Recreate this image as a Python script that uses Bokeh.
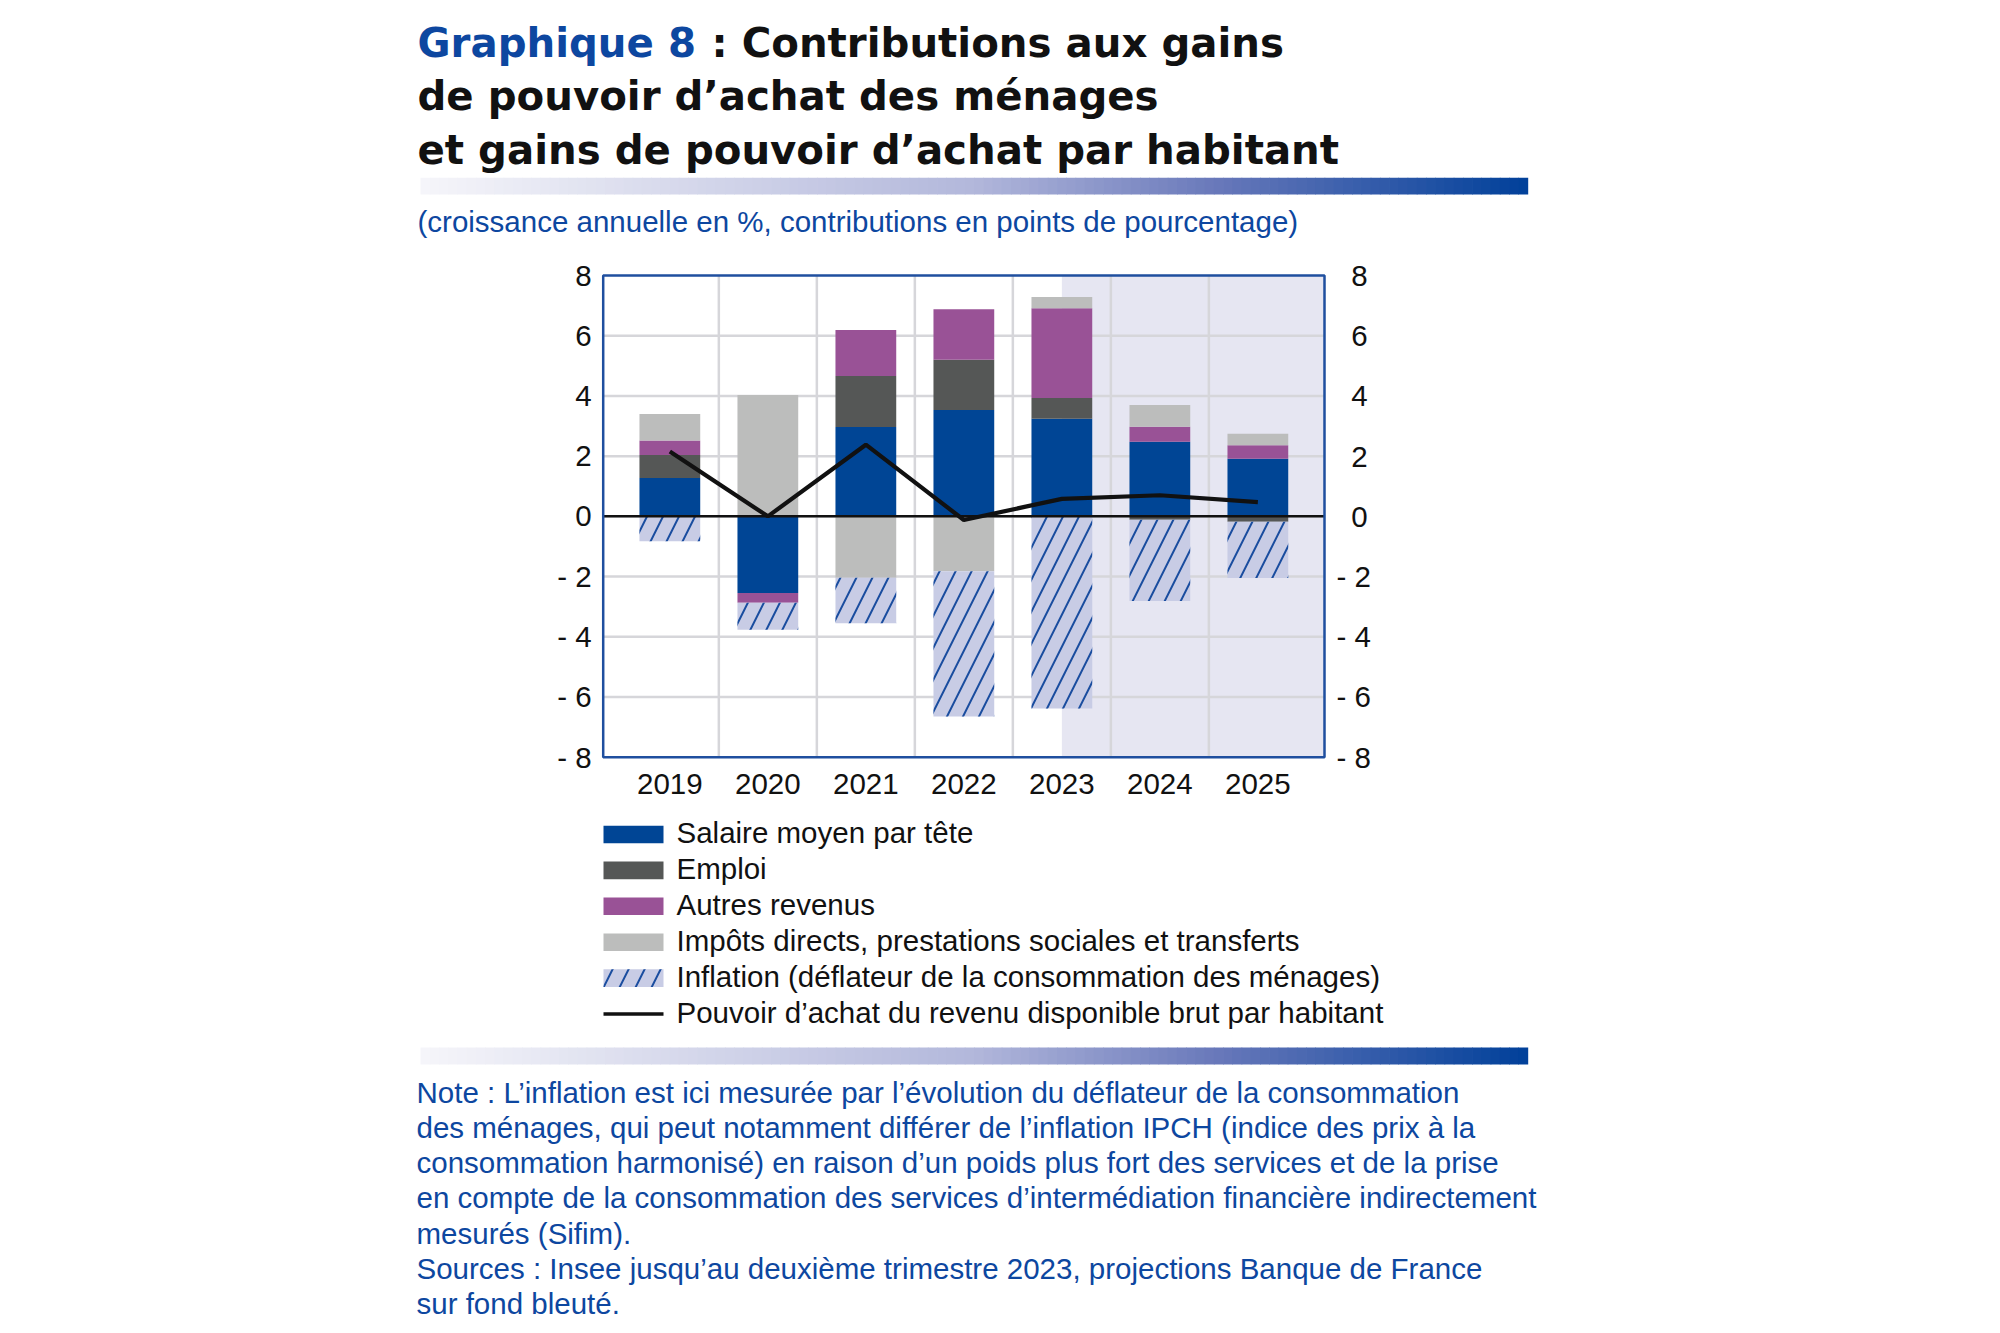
import numpy as np
from bokeh.plotting import figure
from bokeh.models import Range1d
from bokeh.core.properties import value
from bokeh.embed import file_html
from bokeh.resources import INLINE

# ---------------- data ----------------
years = ["2019", "2020", "2021", "2022", "2023", "2024", "2025"]
salaire = [1.27, -2.55, 2.97, 3.53, 3.24, 2.48, 1.91]
emploi = [0.77, 0.00, 1.69, 1.67, 0.69, -0.11, -0.18]
autres = [0.48, -0.32, 1.53, 1.68, 2.98, 0.50, 0.45]
impots = [0.88, 4.03, -2.04, -1.82, 0.38, 0.72, 0.38]
inflation = [-0.83, -0.90, -1.51, -4.83, -6.38, -2.70, -1.87]
pouvoir = [2.15, 0.00, 2.38, -0.12, 0.58, 0.70, 0.47]
y_ticks = [-8, -6, -4, -2, 0, 2, 4, 6, 8]
proj_start = "2023"

series_names = [
    "Salaire moyen par tête",
    "Emploi",
    "Autres revenus",
    "Impôts directs, prestations sociales et transferts",
    "Inflation (déflateur de la consommation des ménages)",
]
line_name = "Pouvoir d’achat du revenu disponible brut par habitant"

title_blue = "Graphique 8"
title_lines = [": Contributions aux gains",
               "de pouvoir d’achat des ménages",
               "et gains de pouvoir d’achat par habitant"]
subtitle = "(croissance annuelle en %, contributions en points de pourcentage)"
notes = [
    "Note : L’inflation est ici mesurée par l’évolution du déflateur de la consommation",
    "des ménages, qui peut notamment différer de l’inflation IPCH (indice des prix à la",
    "consommation harmonisé) en raison d’un poids plus fort des services et de la prise",
    "en compte de la consommation des services d’intermédiation financière indirectement",
    "mesurés (Sifim).",
    "Sources : Insee jusqu’au deuxième trimestre 2023, projections Banque de France",
    "sur fond bleuté.",
]

# ---------------- styles ----------------
BLUE = "#004595"
DGREY = "#555756"
PURPLE = "#995296"
LGREY = "#bcbdbc"
HFILL = "#c8cce5"
HLINE = "#1a4d9f"
SHADE = "#e6e6f2"
GRID = "#d6d6da"
FRAME = "#1f4f9f"
TXT = "#111111"
TBLUE = "#0d47a0"
FONT = "Liberation Sans"
TFONT = "DejaVu Sans"
FS_PX = 29.5
TS_PX = 40.3
HATCH = dict(hatch_pattern="/", hatch_color=HLINE, hatch_scale=32, hatch_weight=2)

colors = [BLUE, DGREY, PURPLE, LGREY, HFILL]
values = [salaire, emploi, autres, impots, inflation]

# ---------------- page canvas (pixel coordinates, y downward) ----------------
W, H = 1990, 1330
p = figure(width=W, height=H, output_backend="svg", toolbar_location=None,
           x_range=Range1d(0, W), y_range=Range1d(H, 0),
           x_axis_type=None, y_axis_type=None, min_border=0, title=None)
p.outline_line_color = None
p.grid.visible = False
p.background_fill_color = "white"
p.border_fill_color = "white"

# chart plot area on the page and chart data ranges
FL, FR, FT, FB = 602.7, 1324.0, 275.0, 756.7
XMIN, XMAX = -0.68, 6.68
YMIN, YMAX = -8.0, 8.0
kx = (FR - FL) / (XMAX - XMIN)
ky = (FB - FT) / (YMAX - YMIN)
p.extra_x_ranges = {"cx": Range1d(XMIN - FL / kx, XMAX + (W - FR) / kx)}
p.extra_y_ranges = {"cy": Range1d(YMIN - (H - FB) / ky, YMAX + FT / ky)}
C = dict(x_range_name="cx", y_range_name="cy")

BASE_FIX = 0.335  # baseline correction (em) for text drawn at page baselines


def txt(xs, ys, texts, color=TXT, font=FONT, size=FS_PX, style="normal",
        align="left", baseline="alphabetic", **kw):
    if baseline == "alphabetic":
        ys = [yy - BASE_FIX * size for yy in ys]
    p.text(x=xs, y=ys, text=texts, text_color=color, text_font=value(font),
           text_font_size=value("%.1fpx" % size), text_font_style=style,
           text_align=align, text_baseline=baseline, **kw)


stops = [(0.0, (246, 246, 250)), (0.5, (178, 183, 219)),
         (0.72, (104, 120, 186)), (1.0, (0, 64, 154))]


def grad_color(t):
    for (t0, c0), (t1, c1) in zip(stops[:-1], stops[1:]):
        if t <= t1:
            fr = (t - t0) / (t1 - t0)
            return "#%02x%02x%02x" % tuple(int(round(a + (b - a) * fr)) for a, b in zip(c0, c1))
    return "#%02x%02x%02x" % stops[-1][1]


def gradient_bar(x0, x1, y0, y1, n=120):
    step = (x1 - x0) / n
    lefts = [x0 + k * step for k in range(n)]
    rights = [l + step + 0.7 for l in lefts]
    cols = [grad_color((k + 0.5) / n) for k in range(n)]
    p.quad(left=lefts, right=rights, top=[y0] * n, bottom=[y1] * n,
           fill_color=cols, line_color=None)


# ---------------- title ----------------
txt([417], [56.7], [title_blue], color=TBLUE, font=TFONT, size=TS_PX, style="bold")
txt([711, 417, 417], [56.7, 110, 163.3], title_lines, font=TFONT, size=TS_PX, style="bold")
gradient_bar(420, 1527, 177.3, 194)
txt([417], [231], [subtitle], color=TBLUE)

# ---------------- chart ----------------
x = np.arange(len(years))
xs0 = years.index(proj_start)

# projected period shading
p.quad(left=[xs0], right=[XMAX], bottom=[YMIN], top=[YMAX],
       fill_color=SHADE, line_color=None, **C)

# grid
vg = [i + 0.5 for i in range(len(years) - 1)]
p.segment(x0=vg, x1=vg, y0=[YMIN] * len(vg), y1=[YMAX] * len(vg),
          line_color=GRID, line_width=2.5, **C)
hg = [t for t in y_ticks if YMIN < t < YMAX]
p.segment(x0=[XMIN] * len(hg), x1=[XMAX] * len(hg), y0=hg, y1=hg,
          line_color=GRID, line_width=2.5, **C)

# stacked bars
pos = np.zeros(len(years))
neg = np.zeros(len(years))
for i, (vals, col) in enumerate(zip(values, colors)):
    v = np.array(vals, dtype=float)
    bottom = np.where(v >= 0, pos, neg)
    top = bottom + v
    pos = np.where(v >= 0, top, pos)
    neg = np.where(v < 0, top, neg)
    kw = dict(x=x, bottom=bottom, top=top, width=0.62, fill_color=col, line_color=None)
    if i == 4:
        kw.update(HATCH)
    p.vbar(**kw, **C)

# zero line
p.segment(x0=[XMIN], x1=[XMAX], y0=[0], y1=[0], line_color=TXT, line_width=2.5, **C)

# purchasing power line
p.line(x, pouvoir, line_color=TXT, line_width=4.2, **C)

# frame
p.quad(left=[XMIN], right=[XMAX], bottom=[YMIN], top=[YMAX],
       fill_color=None, line_color=FRAME, line_width=2.5, **C)


def lab(t, pad=""):
    return ("- %d" % abs(t)) if t < 0 else (pad + "%d" % t)


# tick labels (positioned on the chart's scales)
txt([FL - 11.5] * len(y_ticks), y_ticks, [lab(t) for t in y_ticks],
    align="right", baseline="middle", y_range_name="cy")
txt([FR + 12] * len(y_ticks), y_ticks, [lab(t, "\u2002") for t in y_ticks],
    align="left", baseline="middle", y_range_name="cy")
txt(list(x), [793.6] * len(years), years, align="center", x_range_name="cx")

# ---------------- legend ----------------
rows = [834 + 35.9 * i for i in range(6)]
p.quad(left=[603] * 4, right=[663] * 4,
       top=[r - 8.8 for r in rows[:4]], bottom=[r + 8.8 for r in rows[:4]],
       fill_color=colors[:4], line_color=None)
p.quad(left=[603], right=[663], top=[rows[4] - 8.8], bottom=[rows[4] + 8.8],
       fill_color=HFILL, line_color=None, **HATCH)
p.line([603, 663], [rows[5], rows[5]], line_color=TXT, line_width=3.5)
txt([676] * 6, [r + 8 for r in rows], series_names + [line_name])

# ---------------- notes ----------------
gradient_bar(420, 1527, 1047, 1064)
txt([416] * len(notes), [1101.7 + 35.2 * i for i in range(len(notes))], notes, color=TBLUE)

open("out.html", "w").write(file_html(p, INLINE))
